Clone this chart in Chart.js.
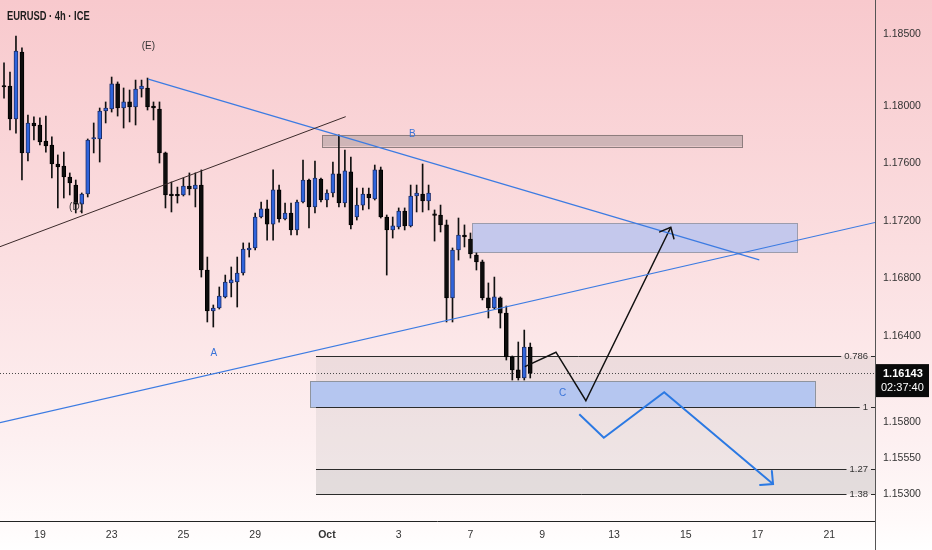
<!DOCTYPE html>
<html><head><meta charset="utf-8">
<script src="https://cdn.jsdelivr.net/npm/chart.js@4.4.1/dist/chart.umd.min.js"></script>
<style>html,body{margin:0;padding:0;background:#fff;}canvas{display:block;}</style>
</head><body>
<canvas id="c" width="932" height="550"></canvas>
<script>
// ---- data ----
const opens  = [1.18137,1.18137,1.17908,1.18373,1.17672,1.17880,1.17866,1.17755,1.17727,1.17595,1.17581,1.17505,1.17449,1.17317,1.17387,1.17769,1.17769,1.17963,1.17977,1.18151,1.17984,1.18026,1.17991,1.18116,1.18123,1.17998,1.17977,1.17672,1.17380,1.17378,1.17380,1.17442,1.17422,1.17449,1.16859,1.16574,1.16595,1.16672,1.16769,1.16776,1.16838,1.16998,1.17012,1.17227,1.17283,1.17178,1.17415,1.17213,1.17255,1.17137,1.17331,1.17484,1.17297,1.17491,1.17345,1.17394,1.17526,1.17324,1.17540,1.17227,1.17310,1.17387,1.17352,1.17554,1.17227,1.17137,1.17158,1.17269,1.17165,1.17373,1.17387,1.17338,1.17241,1.17241,1.17172,1.16665,1.16998,1.17102,1.17074,1.16963,1.16915,1.16665,1.16595,1.16665,1.16560,1.16255,1.16165,1.16109,1.16324];
const highs  = [1.18297,1.18234,1.18484,1.18401,1.17935,1.17922,1.17915,1.17928,1.17783,1.17658,1.17678,1.17533,1.17484,1.17394,1.17769,1.17880,1.17984,1.18026,1.18199,1.18165,1.18123,1.18109,1.18178,1.18178,1.18192,1.18026,1.18026,1.17678,1.17470,1.17435,1.17498,1.17533,1.17533,1.17554,1.16949,1.16616,1.16741,1.16824,1.16880,1.16949,1.17047,1.17047,1.17255,1.17331,1.17345,1.17554,1.17449,1.17324,1.17324,1.17345,1.17623,1.17491,1.17616,1.17498,1.17415,1.17609,1.17797,1.17692,1.17644,1.17428,1.17428,1.17428,1.17588,1.17574,1.17241,1.17227,1.17290,1.17290,1.17449,1.17449,1.17595,1.17449,1.17276,1.17310,1.17206,1.17012,1.17220,1.17172,1.17116,1.16977,1.16928,1.16769,1.16810,1.16672,1.16609,1.16262,1.16359,1.16442,1.16352];
const lows   = [1.18053,1.17831,1.17810,1.17484,1.17616,1.17762,1.17727,1.17678,1.17498,1.17290,1.17359,1.17380,1.17255,1.17255,1.17366,1.17672,1.17609,1.17880,1.17956,1.17928,1.17845,1.17887,1.17866,1.18060,1.17970,1.17901,1.17602,1.17290,1.17262,1.17324,1.17373,1.17380,1.17297,1.16810,1.16498,1.16463,1.16588,1.16665,1.16672,1.16602,1.16824,1.16949,1.16998,1.17220,1.17067,1.17067,1.17192,1.17206,1.17102,1.17102,1.17324,1.17151,1.17255,1.17331,1.17297,1.17366,1.17297,1.17297,1.17144,1.17206,1.17276,1.17283,1.17345,1.17220,1.16824,1.17081,1.17144,1.17137,1.17158,1.17262,1.17262,1.17276,1.17060,1.17123,1.16498,1.16498,1.16928,1.17019,1.16942,1.16859,1.16651,1.16526,1.16588,1.16456,1.16234,1.16095,1.16095,1.16095,1.16109];
const closes = [1.18130,1.17908,1.18380,1.17672,1.17880,1.17859,1.17748,1.17720,1.17595,1.17574,1.17505,1.17463,1.17317,1.17387,1.17762,1.17776,1.17963,1.17984,1.18151,1.17984,1.18026,1.17991,1.18116,1.18137,1.17991,1.17984,1.17672,1.17380,1.17376,1.17374,1.17442,1.17422,1.17449,1.16859,1.16574,1.16595,1.16678,1.16776,1.16790,1.16838,1.17005,1.17012,1.17227,1.17283,1.17178,1.17415,1.17213,1.17255,1.17137,1.17331,1.17484,1.17297,1.17498,1.17345,1.17394,1.17526,1.17324,1.17547,1.17172,1.17310,1.17387,1.17359,1.17554,1.17227,1.17137,1.17165,1.17269,1.17165,1.17373,1.17394,1.17338,1.17394,1.17238,1.17172,1.16665,1.16998,1.17102,1.17088,1.16970,1.16915,1.16665,1.16595,1.16672,1.16560,1.16255,1.16165,1.16109,1.16324,1.16143];

const dayTickIndex  = [6,18,30,42,54,66,78,90,102,114,126,138];
const dayTickLabels = ['19','23','25','29','Oct','3','7','9','13','15','17','21'];
const priceTicks    = [1.185,1.18,1.176,1.172,1.168,1.164,1.158,1.1555,1.153];
const xRange = [-0.67, 145.65];
const yRange = [1.15116, 1.18734];
const lastPrice = 1.16143;
const countdown = '02:37:40';
const chartTitle = 'EURUSD · 4h · ICE';

// drawings: [barIndex, price]
const blackTrend    = [[-0.67,1.17021],[57.14,1.17924]];
const blueTrendDown = [[24.13,1.18185],[126.3,1.16929]];
const blueTrendUp   = [[-0.67,1.15799],[145.65,1.17189]];
const blackPath     = [[87.1,1.16188],[92.3,1.16288],[97.3,1.15951],[111.5,1.17156]];
const bluePath      = [[96.2,1.15857],[100.3,1.15694],[110.4,1.16010],[128.6,1.15373]];
// zones: [x0, x1, priceLow, priceHigh]
const zoneB     = [53.23,123.5,1.17717,1.17797];
const zoneUpper = [78.31,132.66,1.16982,1.17183];
const zoneC     = [51.17,135.6,1.15908,1.16088];
const fibStart  = 52.17;
const fibLevels = ['0.786','1','1.27','1.38'];
const fibPrices = [1.16262,1.15910,1.15475,1.15301];
const waveLabels = ['(E)','(D)','A','B','C'];
const waveLabelX = [24.13,12.04,35.07,68.28,93.43];
const waveLabelY = [1.18410,1.17294,1.16280,1.17801,1.16003];

// ---- build ----
const BULL = '#2f64dc', BEAR = '#0d0d0d';
const wicks = opens.map((o,i)=>({x:i, y:[lows[i], highs[i]]}));
const bodies = opens.map((o,i)=>({x:i, y:[Math.min(o,closes[i]), Math.max(o,closes[i])]}));
const bodyColors = opens.map((o,i)=> closes[i] > o ? BULL : BEAR);
const toPts = a => a.map(p=>({x:p[0], y:p[1]}));
const lineDs = (pts,color,w) => ({type:'line', data:toPts(pts), borderColor:color, borderWidth:w, pointRadius:0, fill:false, tension:0, order:0});

const FONT = "'Liberation Sans', Arial, sans-serif";

const bgPlugin = {
  id:'bg',
  beforeDraw(chart){
    const c = chart.ctx, W = chart.width, H = chart.height;
    const g = c.createLinearGradient(0,0,0,H);
    g.addColorStop(0,'#f8c9cd');
    g.addColorStop(0.45,'#fbdee0');
    g.addColorStop(0.8,'#fdf0f1');
    g.addColorStop(0.95,'#fffafa');
    g.addColorStop(1,'#ffffff');
    c.save(); c.fillStyle = g; c.fillRect(0,0,W,H); c.restore();
  }
};

function arrowHead(c, pts, xs, ys, color, len, ang, w){
  const n = pts.length;
  const x1 = xs.getPixelForValue(pts[n-2][0]), y1 = ys.getPixelForValue(pts[n-2][1]);
  const x2 = xs.getPixelForValue(pts[n-1][0]), y2 = ys.getPixelForValue(pts[n-1][1]);
  const a = Math.atan2(y2-y1, x2-x1);
  c.save(); c.strokeStyle=color; c.lineWidth=w; c.lineCap='round';
  c.beginPath();
  c.moveTo(x2 - len*Math.cos(a-ang), y2 - len*Math.sin(a-ang));
  c.lineTo(x2,y2);
  c.lineTo(x2 - len*Math.cos(a+ang), y2 - len*Math.sin(a+ang));
  c.stroke(); c.restore();
}

const drawPlugin = {
  id:'drawings',
  beforeDatasetsDraw(chart){
    const c = chart.ctx, xs = chart.scales.x, ys = chart.scales.y, A = chart.chartArea;
    const X = v=>xs.getPixelForValue(v), Y = v=>ys.getPixelForValue(v);
    c.save();
    // fib shading
    const fx = X(fibStart);
    c.fillStyle = 'rgba(140,140,140,0.13)';
    c.fillRect(fx, Y(fibPrices[0]), A.right-fx, Y(fibPrices[2])-Y(fibPrices[0]));
    c.fillStyle = 'rgba(120,120,120,0.2)';
    c.fillRect(fx, Y(fibPrices[2]), A.right-fx, Y(fibPrices[3])-Y(fibPrices[2]));
    // zones
    const zone = (z, fill, stroke) => {
      const x0 = X(z[0]), x1 = X(z[1]), y0 = Y(z[3]), y1 = Y(z[2]);
      c.fillStyle = fill; c.fillRect(x0,y0,x1-x0,y1-y0);
      c.strokeStyle = stroke; c.lineWidth = 1;
      c.strokeRect(Math.round(x0)+0.5, Math.round(y0)+0.5, Math.round(x1-x0), Math.round(y1-y0));
    };
    zone(zoneB, '#cfb5b7', '#8e7d7e');
    zone(zoneUpper, '#c4c8ec', '#9c9cac');
    zone(zoneC, '#b5c6f0', '#8f949e');
    // fib lines + labels
    c.font = '9.5px ' + FONT; c.textBaseline = 'middle'; c.textAlign = 'right';
    fibPrices.forEach((p,i)=>{
      const y = Math.round(Y(p)) + 0.5;
      const tw = c.measureText(fibLevels[i]).width;
      const tr = A.right - 7;
      c.strokeStyle = '#2b2b2b'; c.lineWidth = 1;
      c.beginPath(); c.moveTo(fx, y); c.lineTo(tr - tw - 3, y); c.stroke();
      c.beginPath(); c.moveTo(A.right-4, y); c.lineTo(A.right, y); c.stroke();
      c.fillStyle = '#333'; c.fillText(fibLevels[i], tr, y);
    });
    // current price dotted line
    const py = Math.round(Y(lastPrice)) + 0.5;
    c.strokeStyle = '#4a4a4a'; c.lineWidth = 1; c.setLineDash([1,2]);
    c.beginPath(); c.moveTo(A.left, py); c.lineTo(A.right, py); c.stroke();
    c.restore();
  },
  afterDatasetsDraw(chart){
    const c = chart.ctx, xs = chart.scales.x, ys = chart.scales.y, A = chart.chartArea;
    const X = v=>xs.getPixelForValue(v), Y = v=>ys.getPixelForValue(v);
    arrowHead(c, blackPath, xs, ys, '#111', 12, 0.72, 1.5);
    arrowHead(c, bluePath, xs, ys, '#2b79e3', 13, 0.78, 2);
    c.save();
    c.textAlign = 'center'; c.textBaseline = 'middle';
    waveLabels.forEach((t,i)=>{
      const paren = t.startsWith('(');
      c.font = '10px ' + FONT;
      c.fillStyle = paren ? '#333' : '#3a74d8';
      c.fillText(t, X(waveLabelX[i]), Y(waveLabelY[i]));
    });
    // title
    c.save();
    c.translate(7, 20); c.scale(0.78, 1);
    c.font = 'bold 12px ' + FONT; c.fillStyle = '#1c1c1c';
    c.textAlign = 'left'; c.textBaseline = 'alphabetic';
    c.fillText(chartTitle, 0, 0);
    c.restore();
    // axis lines
    c.strokeStyle = '#222'; c.lineWidth = 1;
    c.beginPath(); c.moveTo(0, A.bottom+0.5); c.lineTo(A.right, A.bottom+0.5); c.stroke();
    c.strokeStyle = '#555';
    c.beginPath(); c.moveTo(A.right+0.5, 0); c.lineTo(A.right+0.5, chart.height); c.stroke();
    // price box
    const py = Y(lastPrice);
    c.fillStyle = '#0a0a0a';
    c.fillRect(A.right+1, py-9, 53, 33);
    c.fillStyle = '#ffffff'; c.textAlign = 'left';
    c.font = 'bold 11px ' + FONT;
    c.fillText(lastPrice.toFixed(5), A.right+8, py+1);
    c.font = '11px ' + FONT;
    c.fillText(countdown, A.right+6, py+15);
    c.restore();
  }
};

new Chart(document.getElementById('c'), {
  data: {
    datasets: [
      {type:'bar', data:wicks, backgroundColor:'#111', barThickness:1, grouped:false, order:3, minBarLength:1},
      {type:'bar', data:bodies, backgroundColor:bodyColors,
       borderColor: opens.map((o,i)=> closes[i] > o ? '#1d2f6a' : '#000'),
       borderWidth:1, borderSkipped:false, barThickness:4, grouped:false, order:2, minBarLength:1.5},
      lineDs(blackTrend,'#3b2a2a',1),
      lineDs(blueTrendDown,'#3c7be2',1.2),
      lineDs(blueTrendUp,'#3c7be2',1.2),
      lineDs(blackPath,'#111',1.5),
      lineDs(bluePath,'#2b79e3',2)
    ]
  },
  options: {
    responsive:false, animation:false, devicePixelRatio:1,
    layout:{padding:0},
    plugins:{legend:{display:false}, tooltip:{enabled:false}, title:{display:false}},
    scales:{
      x:{type:'linear', min:xRange[0], max:xRange[1], offset:false,
         grid:{display:false, drawTicks:false}, border:{display:false},
         afterBuildTicks: s=>{ s.ticks = dayTickIndex.map(v=>({value:v})); },
         afterFit: s=>{ s.height = 29; s.paddingLeft = 0; s.paddingRight = 0; },
         ticks:{padding:8, color:'#333', autoSkip:false, maxRotation:0,
           font: ctx => ({family:FONT, size:10.5, weight: (ctx.tick && ctx.tick.label==='Oct') ? 'bold' : 'normal'}),
           callback: (v,i)=> dayTickLabels[i]}},
      y:{type:'linear', position:'right', min:yRange[0], max:yRange[1],
         grid:{display:false, drawTicks:false}, border:{display:false},
         afterBuildTicks: s=>{ s.ticks = priceTicks.map(v=>({value:v})); },
         afterFit: s=>{ s.width = 57; s.paddingTop = 0; s.paddingBottom = 0; },
         ticks:{padding:8, color:'#333', autoSkip:false, font:{family:FONT, size:10.5},
           callback: v=> Number(v).toFixed(5)}}
    }
  },
  plugins:[bgPlugin, drawPlugin]
});
</script>
</body></html>
